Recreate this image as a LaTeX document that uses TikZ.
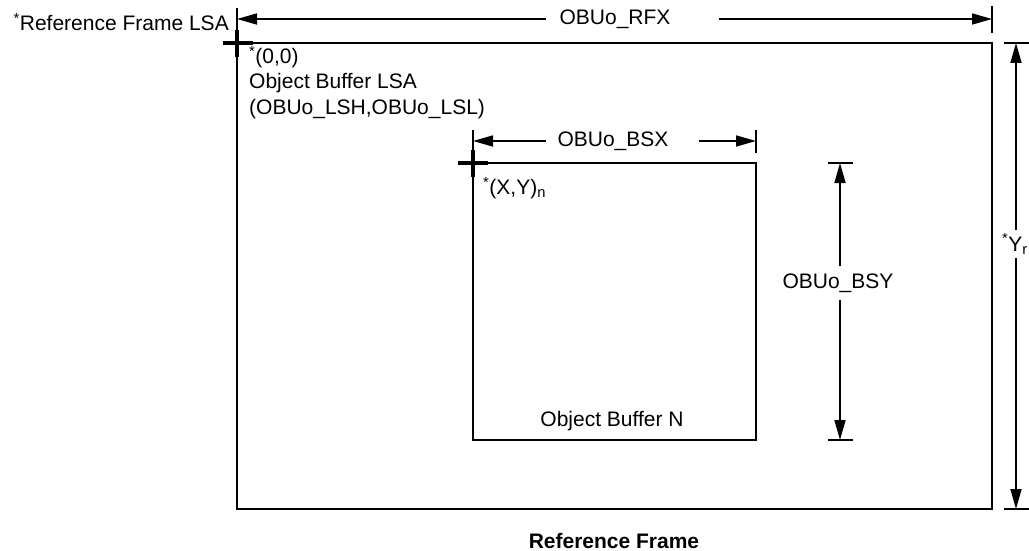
\documentclass[tikz,border=0pt]{standalone}
\usepackage{fontspec}
\setmainfont{Liberation Sans}
\usetikzlibrary{positioning, arrows.meta}

\begin{document}
\begin{tikzpicture}[
        x=1pt, y=-1pt,
        frame/.style={draw=black, line width=1.8pt},
        dimline/.style={-{Triangle[length=20pt, width=11pt]}, line width=1.6pt},
        tickline/.style={line width=1.8pt},
        crossmark/.style={line width=4.5pt},
        txt/.style={font=\fontsize{21}{25}\selectfont, inner sep=0pt},
        captxt/.style={font=\fontsize{21}{25}\selectfont\bfseries, inner sep=0pt}
        ]
        \useasboundingbox (0,0) rectangle (1029,551);
        \clip (0,0) rectangle (1029,551);

        % Reference frame and object buffer
        \coordinate (rfNW) at (237,43);
        \coordinate (rfSE) at (992,509);
        \draw[frame] (rfNW) rectangle (rfSE);
        \coordinate (obNW) at (473,163);
        \coordinate (obSE) at (756,440);
        \draw[frame] (obNW) rectangle (obSE);

        % Origin marks
        \draw[crossmark] (223,43) -- (253,43);
        \draw[crossmark] (237,30) -- (237,57);
        \draw[crossmark] (458,163) -- (488,163);
        \draw[crossmark] (473,150) -- (473,177);

        % OBUo_RFX
        \coordinate (rfxL) at (237,19);
        \coordinate (rfxR) at (992,19);
        \draw[tickline] (237,8) -- (rfNW);
        \draw[tickline] (992,6) -- (992,33);
        \node[txt] (rfx) at (615,19) {OBUo\_RFX};
        \draw[dimline] ([xshift=-13pt]rfx.west) -- (rfxL);
        \draw[dimline] ([xshift=48pt]rfx.east) -- (rfxR);

        % Y of reference frame
        \coordinate (yrTop) at (1016,43);
        \coordinate (yrBot) at (1016,509);
        \coordinate (yrGapT) at (1016,230);
        \coordinate (yrGapB) at (1016,258);
        \draw[tickline] (1004,43) -- (1035,43);
        \draw[tickline] (1004,509) -- (1035,509);
        \node[txt, anchor=east] (yr) at (1028,244) {\textsuperscript{*}Y\textsubscript{r}};
        \draw[dimline] (yrGapT) -- (yrTop);
        \draw[dimline] (yrGapB) -- (yrBot);

        % OBUo_BSX
        \coordinate (bsxL) at (473,141);
        \coordinate (bsxR) at (756,141);
        \draw[tickline] (473,130) -- (obNW);
        \draw[tickline] (756,130) -- (756,153);
        \node[txt] (bsx) at (613,141) {OBUo\_BSX};
        \draw[dimline] ([xshift=-11pt]bsx.west) -- (bsxL);
        \draw[dimline] ([xshift=30pt]bsx.east) -- (bsxR);

        % OBUo_BSY
        \coordinate (bsyT) at (840,163);
        \coordinate (bsyB) at (840,440);
        \draw[tickline] (828,163) -- (853,163);
        \draw[tickline] (828,440) -- (853,440);
        \node[txt] (bsy) at (838,283) {OBUo\_BSY};
        \draw[dimline] ([xshift=2pt, yshift=7pt]bsy.north) -- (bsyT);
        \draw[dimline] ([xshift=2pt, yshift=-7pt]bsy.south) -- (bsyB);

        % Labels
        \node[txt, anchor=east] (rflsa) at (229,22) {\textsuperscript{*}Reference Frame LSA};
        \node[txt, anchor=west] (origin) at (249,57) {\textsuperscript{*}(0,0)};
        \node[txt, anchor=west] (oblsa) at (249,83) {Object Buffer LSA};
        \node[txt, anchor=west] (oblsh) at (249,109) {(OBUo\_LSH,OBUo\_LSL)};
        \node[txt, anchor=west] (xyn) at (483,188) {\textsuperscript{*}(X,Y)\textsubscript{n}};
        \node[txt] (obn) at (612,421) {Object Buffer N};
        \node[captxt] (rfcap) at (614,541) {Reference Frame};

\end{tikzpicture}
\end{document}
